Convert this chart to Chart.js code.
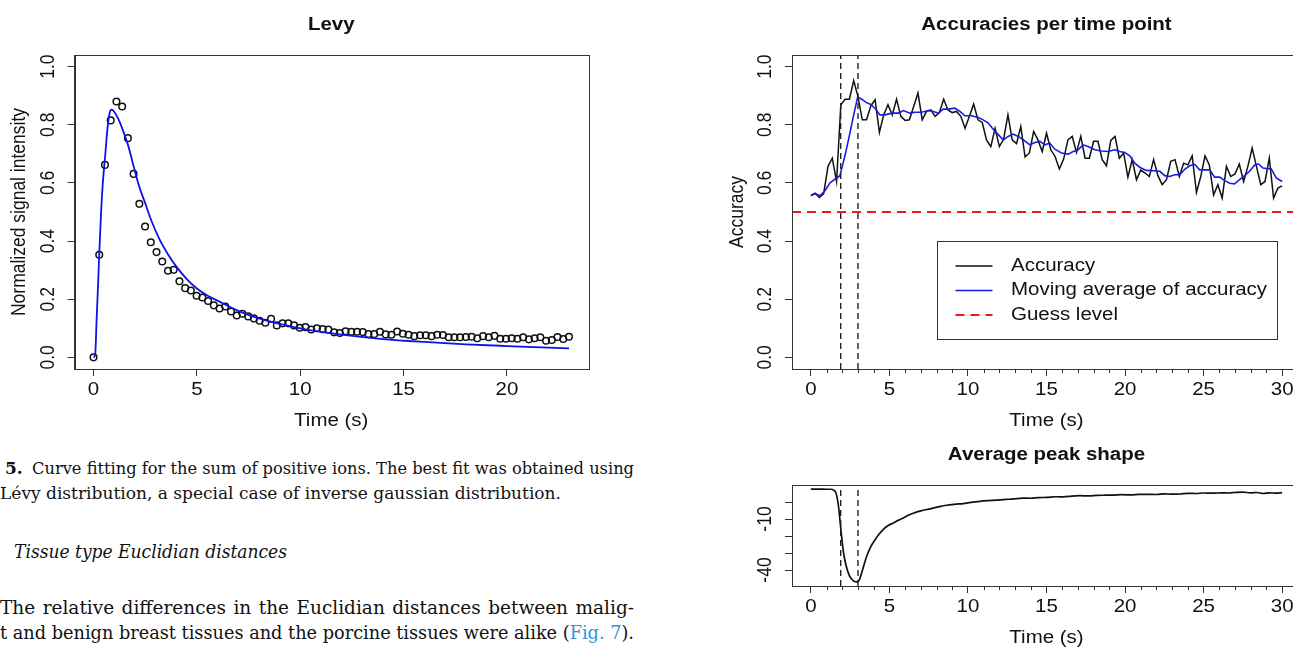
<!DOCTYPE html>
<html lang="en">
<head>
<meta charset="UTF-8">
<title>Levy fit, accuracies per time point, average peak shape</title>
<script src="https://cdn.jsdelivr.net/npm/chart.js@4"></script>
<style>
  html, body { margin: 0; padding: 0; background: #fff; }
  body { width: 1293px; height: 647px; overflow: hidden; position: relative; }
  canvas { position: absolute; }
  .txt { position: absolute; white-space: nowrap; line-height: 24px; color: #111;
         font-family: "DejaVu Serif", "Liberation Serif", serif; transform-origin: 0 50%; }
  .cap { font-size: 17px; }
  .body { font-size: 18.5px; }
</style>
</head>
<body>
<canvas id="levyChart" width="600" height="440" style="left:0;top:0"></canvas>
<canvas id="accChart" width="620" height="440" style="left:700px;top:0"></canvas>
<canvas id="peakChart" width="620" height="217" style="left:700px;top:430px"></canvas>

<div class="txt cap" style="left:5px;top:456px;font-weight:bold">5.</div>
<div class="txt cap" data-w="602" data-j="1" style="left:32px;top:456px">Curve fitting for the sum of positive ions. The best fit was obtained using</div>
<div class="txt cap" data-w="561" style="left:0;top:481px">Lévy distribution, a special case of inverse gaussian distribution.</div>
<div class="txt body" data-w="273" style="left:14px;top:540px;font-style:italic">Tissue type Euclidian distances</div>
<div class="txt body" data-w="634" data-j="1" style="left:0;top:596px">The relative differences in the Euclidian distances between malig-</div>
<div class="txt body" data-w="634" data-j="1" style="left:0;top:621px">t and benign breast tissues and the porcine tissues were alike (<span style="color:#2b97d5">Fig. 7</span>).</div>

<script>
// ---- data ----

// Levy panel: measured points every 23/83 s, and the fitted curve
const levyStep = 23 / 83;
const levyPoints = [
  0.0, 0.353, 0.662, 0.815, 0.880, 0.863, 0.754, 0.631, 0.528, 0.450,
  0.396, 0.362, 0.330, 0.298, 0.301, 0.262, 0.238, 0.230, 0.212, 0.206,
  0.194, 0.179, 0.168, 0.175, 0.158, 0.144, 0.150, 0.141, 0.134, 0.126,
  0.119, 0.133, 0.110, 0.117, 0.117, 0.110, 0.102, 0.104, 0.096, 0.100,
  0.097, 0.096, 0.086, 0.084, 0.090, 0.088, 0.088, 0.087, 0.080, 0.080,
  0.088, 0.079, 0.078, 0.089, 0.081, 0.078, 0.073, 0.076, 0.076, 0.073,
  0.078, 0.077, 0.069, 0.069, 0.069, 0.070, 0.071, 0.066, 0.073, 0.069,
  0.074, 0.064, 0.064, 0.066, 0.064, 0.069, 0.062, 0.066, 0.069, 0.057,
  0.060, 0.070, 0.063, 0.071
];
const levyFitTimes = [0, 0.08, 0.15, 0.22, 0.28, 0.36, 0.45, 0.56, 0.68, 0.78, 0.87, 1.0, 1.2, 1.4,
  1.67, 1.95, 2.2, 2.5, 2.8, 3.2, 3.6, 4.0, 4.5, 5.0, 5.5, 6.0, 7, 8, 9, 10, 11, 12, 14, 16, 18, 20, 23];
const levyFitValues = [0, 0.01, 0.13, 0.25, 0.36, 0.49, 0.60, 0.69, 0.79, 0.84, 0.852, 0.845, 0.82, 0.785,
  0.73, 0.655, 0.59, 0.53, 0.47, 0.405, 0.355, 0.313, 0.27, 0.237, 0.213, 0.195, 0.16, 0.134, 0.115,
  0.1, 0.088, 0.078, 0.063, 0.053, 0.045, 0.039, 0.031];
const levyXTicks = [0, 5, 10, 15, 20];
const unitYTicks = [0, 0.2, 0.4, 0.6, 0.8, 1.0];

// Accuracy panel: accuracy every 30/110 s, moving average, guess level, onset markers
const accStep = 30 / 110;
const accValues = [
  0.557, 0.565, 0.550, 0.563, 0.657, 0.685, 0.605, 0.869, 0.888, 0.888, 0.952, 0.897, 0.817,
  0.817, 0.865, 0.886, 0.774, 0.834, 0.869, 0.834, 0.888, 0.829, 0.815, 0.817, 0.863, 0.909,
  0.817, 0.846, 0.851, 0.829, 0.842, 0.888, 0.851, 0.842, 0.846, 0.829, 0.788, 0.829, 0.871,
  0.817, 0.808, 0.748, 0.725, 0.788, 0.725, 0.751, 0.834, 0.748, 0.735, 0.794, 0.689, 0.703,
  0.777, 0.748, 0.708, 0.771, 0.714, 0.691, 0.648, 0.682, 0.748, 0.760, 0.705, 0.760, 0.685,
  0.685, 0.743, 0.743, 0.680, 0.659, 0.746, 0.760, 0.685, 0.703, 0.620, 0.680, 0.611, 0.645,
  0.634, 0.622,
  0.680, 0.625, 0.594, 0.611, 0.674, 0.680, 0.622, 0.668, 0.662, 0.693, 0.567, 0.622, 0.693,
  0.662, 0.559, 0.594, 0.548, 0.657, 0.622, 0.631, 0.665, 0.605, 0.657, 0.720, 0.657, 0.594,
  0.605, 0.685, 0.548, 0.582, 0.590
];
const maTimes = [0, 0.27, 0.59, 0.91, 1.22, 1.5, 1.65, 1.85, 2.2, 2.5, 2.75, 2.98, 3.24, 3.51, 3.79,
  4.08, 4.4, 4.72, 5.14, 5.57, 5.89, 6.31, 6.63, 7.05, 7.48, 7.8, 8.11, 8.43, 8.75, 9.17, 9.49, 9.81,
  10.23, 10.66, 10.97, 11.29, 11.61, 11.93, 12.24, 12.56, 12.88, 13.2, 13.52, 13.94, 14.26, 14.58,
  14.9, 15.21, 15.53, 15.95, 16.38, 16.7, 17.01, 17.33, 17.65, 18.07, 18.5, 18.92, 19.34, 19.66,
  19.98, 20.3, 20.62, 20.93, 21.36, 21.78, 22.21, 22.53, 22.84, 23.16, 23.48, 23.8, 24.11, 24.43,
  24.75, 25.07, 25.39, 25.7, 26.02, 26.34, 26.66, 26.97, 27.29, 27.61, 27.93, 28.25, 28.5, 28.78,
  29.09, 29.3, 29.62, 30.0];
const maValues = [0.556, 0.563, 0.556, 0.574, 0.6, 0.611, 0.617, 0.625, 0.70, 0.775, 0.84, 0.895,
  0.888, 0.877, 0.871, 0.857, 0.834, 0.834, 0.84, 0.84, 0.849, 0.84, 0.843, 0.843, 0.849, 0.846,
  0.84, 0.854, 0.854, 0.857, 0.846, 0.831, 0.831, 0.825, 0.817, 0.806, 0.785, 0.766, 0.748, 0.76,
  0.768, 0.76, 0.748, 0.731, 0.739, 0.743, 0.731, 0.737, 0.716, 0.703, 0.699, 0.708, 0.714, 0.731,
  0.725, 0.714, 0.71, 0.708, 0.714, 0.708, 0.705, 0.693, 0.668, 0.654, 0.643, 0.642, 0.64, 0.625,
  0.622, 0.628, 0.628, 0.647, 0.659, 0.664, 0.645, 0.645, 0.645, 0.62, 0.62, 0.608, 0.599, 0.597,
  0.611, 0.625, 0.64, 0.662, 0.665, 0.651, 0.649, 0.649, 0.617, 0.605];
const guessLevel = 0.5;
const onsetLines = [1.9, 3.0];
const timeTicks = [0, 5, 10, 15, 20, 25, 30];

// Average peak shape panel
const peakTimes = [0, 0.5, 1.0, 1.3, 1.45, 1.6, 1.76, 1.91, 2.08, 2.25, 2.46, 2.71, 2.97, 3.1, 3.24,
  3.4, 3.56, 3.8, 4.1, 4.35, 4.6, 4.9, 5.25, 5.55, 5.88, 6.2, 6.52, 7.0, 7.58, 8.1, 8.64, 9.2, 9.7,
  10.2, 10.76, 11.3, 11.8, 12.4, 12.9, 13.5, 14.0, 14.5, 15.0, 15.6, 16.1, 16.6, 17.1, 17.7, 18.2,
  18.8, 19.3, 19.8, 20.4, 20.9, 21.4, 22.0, 22.5, 23.0, 23.5, 24.0, 24.5, 25.0, 25.6, 26.1, 26.6,
  27.0, 27.5, 28.0, 28.4, 28.8, 29.2, 29.6, 30.0];
const peakValues = [7.6, 7.6, 7.5, 7.5, 7.0, 5.3, -2.5, -16, -29.8, -37.6, -43.5, -46.4, -47.0, -45.5,
  -41.5, -36.5, -31.8, -26.5, -22, -18.8, -16.2, -14, -12.3, -10.8, -9.4, -7.8, -6.6, -5.2, -4.0,
  -2.9, -1.9, -1.3, -0.9, -0.2, 0.4, 0.8, 1.1, 1.5, 1.8, 2.3, 2.2, 2.6, 2.7, 3.1, 3.0, 3.5, 3.7, 3.6,
  3.9, 4.0, 4.1, 4.3, 4.2, 4.5, 4.5, 4.4, 4.8, 4.6, 4.7, 5.1, 5.0, 5.3, 5.2, 5.4, 5.3, 5.6, 5.8, 5.4,
  5.6, 5.0, 5.4, 5.2, 5.5];
const peakYTicks = [-40, -30, -20, -10, 0];
const peakYLabels = [-40, -10];

// ---- drawing ----
const FONT = '"Liberation Sans", Arial, sans-serif';
const SX = 1.17; // the figure is a little wider than tall in the page

Chart.defaults.animation = false;
Chart.defaults.events = [];
Chart.defaults.plugins.legend.display = false;
Chart.defaults.plugins.tooltip.enabled = false;

function stretchText(ctx, text, x, y, rotated) {
  ctx.save();
  ctx.translate(x, y);
  if (rotated) { ctx.rotate(-Math.PI / 2); ctx.scale(1, SX); }
  else ctx.scale(SX, 1);
  ctx.fillText(text, 0, 0);
  ctx.restore();
}

// R-like frame, minor ticks, rotated tick labels, titles and legend
const rPlot = {
  id: 'rPlot',
  afterDraw(chart, args, o) {
    const ctx = chart.ctx, a = chart.chartArea, xs = chart.scales.x, ys = chart.scales.y;
    ctx.save();
    ctx.strokeStyle = '#333';
    ctx.lineWidth = 1;
    ctx.strokeRect(Math.round(a.left) + 0.5, Math.round(a.top) + 0.5,
      Math.round(a.right - a.left), Math.round(a.bottom - a.top));
    (o.minorX || []).forEach(v => {
      const px = Math.round(xs.getPixelForValue(v)) + 0.5;
      ctx.beginPath(); ctx.moveTo(px, a.bottom); ctx.lineTo(px, a.bottom + 4); ctx.stroke();
    });

    ctx.fillStyle = '#111';
    ctx.textAlign = 'center';
    ctx.textBaseline = 'middle';
    ctx.font = '17.5px ' + FONT;
    o.xLabels.forEach(v => stretchText(ctx, String(v), xs.getPixelForValue(v), a.bottom + 21.5, false));
    o.yLabels.forEach(v => stretchText(ctx, o.yFmt(v), a.left - 26.5, ys.getPixelForValue(v), true));
    const cx = (a.left + a.right) / 2, cy = (a.top + a.bottom) / 2;
    stretchText(ctx, o.xTitle, cx, a.bottom + 52, false);
    if (o.yTitle) stretchText(ctx, o.yTitle, a.left - 55, cy, true);
    ctx.font = 'bold 17.5px ' + FONT;
    stretchText(ctx, o.title, cx, a.top - 30, false);

    if (o.legend) {
      const L = o.legend;
      ctx.strokeStyle = '#333';
      ctx.lineWidth = 1;
      ctx.strokeRect(L.left + 0.5, L.top + 0.5, L.width, L.height);
      ctx.font = '17.5px ' + FONT;
      ctx.textAlign = 'left';
      L.items.forEach((idx, i) => {
        const ds = chart.data.datasets[idx];
        const yy = L.rowY[i];
        ctx.save();
        ctx.strokeStyle = ds.borderColor;
        ctx.lineWidth = ds.borderWidth;
        ctx.setLineDash(ds.borderDash || []);
        ctx.beginPath(); ctx.moveTo(L.lineX1, yy); ctx.lineTo(L.lineX2, yy); ctx.stroke();
        ctx.restore();
        stretchText(ctx, ds.label, L.textX, yy, false);
      });
    }
    ctx.restore();
  }
};

function axis(min, max, ticks, size, isX) {
  return {
    type: 'linear', min: min, max: max,
    afterBuildTicks: s => { s.ticks = ticks.map(v => ({ value: v })); },
    afterFit: s => { if (isX) s.height = size; else s.width = size; },
    ticks: { display: false },
    grid: { display: true, drawOnChartArea: false, drawTicks: true, tickLength: 7, color: '#333', lineWidth: 1 },
    border: { display: true, color: '#333', width: 1 }
  };
}

function vline(t, y0, y1) {
  return {
    label: 'onset', data: [{ x: t, y: y0 }, { x: t, y: y1 }],
    borderColor: '#222', borderWidth: 1.4, borderDash: [6, 4], pointRadius: 0, showLine: true
  };
}

// Levy
new Chart(document.getElementById('levyChart'), {
  type: 'scatter',
  data: {
    datasets: [
      {
        label: 'Levy fit',
        data: levyFitTimes.map((t, i) => ({ x: t, y: levyFitValues[i] })),
        showLine: true, borderColor: '#1010e8', borderWidth: 1.8, pointRadius: 0,
        cubicInterpolationMode: 'monotone'
      },
      {
        label: 'Signal',
        data: levyPoints.map((v, i) => ({ x: i * levyStep, y: v })),
        showLine: false, pointRadius: 3.3, pointBorderWidth: 1.5,
        pointBorderColor: '#111', pointBackgroundColor: 'rgba(0,0,0,0)'
      }
    ]
  },
  options: {
    responsive: false, devicePixelRatio: 1,
    layout: { padding: { top: 55, right: 12, left: 0, bottom: 0 } },
    scales: {
      x: axis(-0.92, 23.92, levyXTicks, 71, true),
      y: axis(-0.04, 1.04, unitYTicks, 74.5, false)
    },
    plugins: {
      rPlot: {
        title: 'Levy', xTitle: 'Time (s)', yTitle: 'Normalized signal intensity',
        xLabels: levyXTicks, yLabels: unitYTicks, yFmt: v => v.toFixed(1)
      }
    }
  },
  plugins: [rPlot]
});

// Accuracies per time point
const minorTimes = [];
for (let t = 0; t <= 30; t++) if (t % 5) minorTimes.push(t);

new Chart(document.getElementById('accChart'), {
  type: 'scatter',
  data: {
    datasets: [
      vline(onsetLines[0], -0.04, 1.04),
      vline(onsetLines[1], -0.04, 1.04),
      {
        label: 'Guess level', data: [{ x: -1.2, y: guessLevel }, { x: 31.2, y: guessLevel }],
        showLine: true, borderColor: '#f01818', borderWidth: 2, borderDash: [9, 6], pointRadius: 0
      },
      {
        label: 'Moving average of accuracy',
        data: maTimes.map((t, i) => ({ x: t, y: maValues[i] })),
        showLine: true, borderColor: '#1a1ae0', borderWidth: 1.6, pointRadius: 0
      },
      {
        label: 'Accuracy',
        data: accValues.map((v, i) => ({ x: i * accStep, y: v })),
        showLine: true, borderColor: '#111', borderWidth: 1.5, pointRadius: 0
      }
    ]
  },
  options: {
    responsive: false, devicePixelRatio: 1,
    layout: { padding: { top: 55, right: 19, left: 0, bottom: 0 } },
    scales: {
      x: axis(-1.2, 31.2, timeTicks, 71, true),
      y: axis(-0.04, 1.04, unitYTicks, 92, false)
    },
    plugins: {
      rPlot: {
        title: 'Accuracies per time point', xTitle: 'Time (s)', yTitle: 'Accuracy',
        xLabels: timeTicks, yLabels: unitYTicks, yFmt: v => v.toFixed(1), minorX: minorTimes,
        legend: {
          left: 237, top: 241, width: 340, height: 98,
          lineX1: 255.5, lineX2: 292.5, textX: 311, rowY: [266, 290.5, 315],
          items: [4, 3, 2]
        }
      }
    }
  },
  plugins: [rPlot]
});

// Average peak shape
new Chart(document.getElementById('peakChart'), {
  type: 'scatter',
  data: {
    datasets: [
      vline(onsetLines[0], -49.4, 10),
      vline(onsetLines[1], -49.4, 10),
      {
        label: 'Average peak',
        data: peakTimes.map((t, i) => ({ x: t, y: peakValues[i] })),
        showLine: true, borderColor: '#111', borderWidth: 1.7, pointRadius: 0,
        cubicInterpolationMode: 'monotone'
      }
    ]
  },
  options: {
    responsive: false, devicePixelRatio: 1,
    layout: { padding: { top: 55, right: 19, left: 0, bottom: 0 } },
    scales: {
      x: axis(-1.2, 31.2, timeTicks, 61, true),
      y: axis(-49.4, 10, peakYTicks, 92, false)
    },
    plugins: {
      rPlot: {
        title: 'Average peak shape', xTitle: 'Time (s)', yTitle: '',
        xLabels: timeTicks, yLabels: peakYLabels, yFmt: v => String(v), minorX: minorTimes
      }
    }
  },
  plugins: [rPlot]
});

// fit the text lines of the page to their widths
function fitLines() {
  document.querySelectorAll('.txt[data-w]').forEach(el => {
    const target = +el.dataset.w;
    const natural = el.getBoundingClientRect().width;
    const spaces = (el.textContent.match(/ /g) || []).length;
    if (el.dataset.j && natural < target && spaces) {
      el.style.wordSpacing = ((target - natural) / spaces) + 'px';
    } else {
      el.style.transform = 'scaleX(' + (target / natural) + ')';
    }
  });
}
if (document.fonts && document.fonts.ready) document.fonts.ready.then(fitLines);
else fitLines();
</script>
</body>
</html>
